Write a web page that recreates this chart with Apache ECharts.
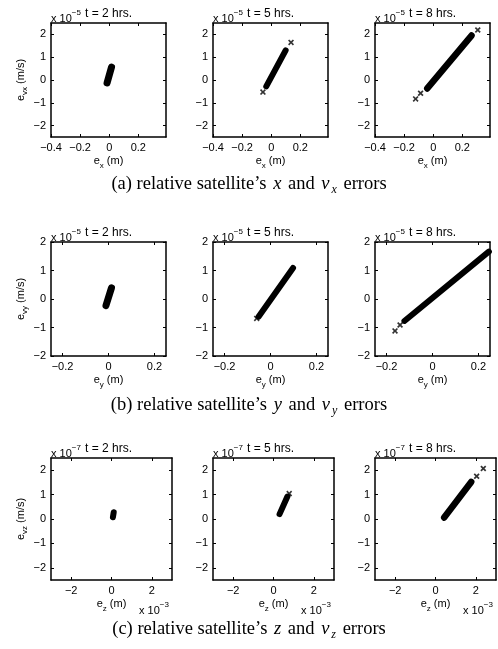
<!DOCTYPE html>
<html><head><meta charset="utf-8">
<script src="https://cdn.jsdelivr.net/npm/echarts@6/dist/echarts.min.js"></script>
<style>html,body{margin:0;padding:0;background:#fff}#c{width:498px;height:649px}</style>
</head><body><div id="c"></div>
<script>
// ---------------- DATA (values as displayed: x in m or x10^-3 m, v in x10^-5 / x10^-7 m/s) ----------------
const hourLabels = ['t = 2 hrs.', 't = 5 hrs.', 't = 8 hrs.'];
const yExponents = ['\u22125', '\u22125', '\u22127'];
const xSubs = ['x', 'y', 'z'];
const ySubs = ['vx', 'vy', 'vz'];

const xRanges = [[-0.4, 0.39], [-0.25, 0.25], [-3, 3]];
const yRanges = [[-2.5, 2.5], [-2, 2], [-2.5, 2.5]];
const xTickValues = [[-0.4, -0.2, 0, 0.2], [-0.2, 0, 0.2], [-2, 0, 2]];
const yTickValues = [-2, -1, 0, 1, 2];

// (a) x vs vx error clouds (centre line of the dense cloud) and isolated points
const aBand2h = [[-0.015, -0.13], [0.016, 0.57]];
const aBand5h = [[-0.034, -0.28], [0.099, 1.3]];
const aBand8h = [[-0.041, -0.37], [0.263, 1.95]];
const aOut2h = [];
const aOut5h = [[-0.057, -0.53], [0.136, 1.65]];
const aOut8h = [[-0.121, -0.83], [-0.087, -0.58], [0.306, 2.19]];

// (b) y vs vy
const bBand2h = [[-0.011, -0.23], [0.013, 0.39]];
const bBand5h = [[-0.052, -0.62], [0.098, 1.09]];
const bBand8h = [[-0.122, -0.77], [0.245, 1.66]];
const bOut2h = [];
const bOut5h = [[-0.06, -0.68]];
const bOut8h = [[-0.163, -1.12], [-0.141, -0.91]];

// (c) z vs vz (x in 10^-3 m, v in 10^-7 m/s)
const cBand2h = [[0.07, 0.07], [0.11, 0.28]];
const cBand5h = [[0.3, 0.2], [0.69, 0.92]];
const cBand8h = [[0.43, 0.06], [1.77, 1.52]];
const cOut2h = [];
const cOut5h = [[0.78, 1.04]];
const cOut8h = [[2.04, 1.75], [2.37, 2.07]];

const captionLabels = [
  ['(a) relative satellite\u2019s ', 'x', ' and ', 'v', 'x', ' errors'],
  ['(b) relative satellite\u2019s ', 'y', ' and ', 'v', 'y', ' errors'],
  ['(c) relative satellite\u2019s ', 'z', ' and ', 'v', 'z', ' errors']
];

// ---------------- LAYOUT / STYLE ----------------
const bands = [[aBand2h, aBand5h, aBand8h], [bBand2h, bBand5h, bBand8h], [cBand2h, cBand5h, cBand8h]];
const outs = [[aOut2h, aOut5h, aOut8h], [bOut2h, bOut5h, bOut8h], [cOut2h, cOut5h, cOut8h]];
const bandWidths = [[7, 6, 6.5], [7, 6, 6], [6, 6, 6.5]];
const rowTops = [23, 242, 458];
const rowHeights = [114, 114, 122];
const rowWidths = [115, 115, 121];
const colLefts = [51, 213, 375];
const captionY = [185, 406, 630];
const SANS = '"Liberation Sans", Arial, Helvetica, sans-serif';
const SERIF = '"Liberation Serif", "Times New Roman", serif';
const FS = 11;
const TFS = 12;
const CAP = 18.5;
const crossPath = 'path://M0,2L2,0L5,3L8,0L10,2L7,5L10,8L8,10L5,7L2,10L0,8L3,5Z';
const fmt = v => String(Math.round(v * 1000) / 1000).replace('-', '\u2212');

const grids = [], xAxes = [], yAxes = [], series = [], graphics = [];

for (let r = 0; r < 3; r++) {
  for (let c = 0; c < 3; c++) {
    const i = r * 3 + c;
    const left = colLefts[c], top = rowTops[r], w = rowWidths[r], h = rowHeights[r];
    grids.push({ left: left, top: top, width: w, height: h, containLabel: false, outerBoundsMode: 'none' });
    const lineStyle = { color: '#000', width: 1.5 };
    const tick = (vals) => ({ show: true, inside: true, length: 3, customValues: vals, lineStyle: { color: '#000', width: 1 } });
    const labelStyle = { color: '#000', fontSize: FS, fontFamily: SANS };
    xAxes.push({
      gridIndex: i, type: 'value', position: 'bottom', min: xRanges[r][0], max: xRanges[r][1],
      axisLine: { show: true, onZero: false, lineStyle: lineStyle },
      axisTick: tick(xTickValues[r]),
      axisLabel: Object.assign({ customValues: xTickValues[r], formatter: fmt, margin: 5 }, labelStyle),
      splitLine: { show: false },
      name: '{m|e}{s|' + xSubs[r] + '}{m| (m)}', nameLocation: 'middle', nameGap: 18,
      nameTextStyle: {
        rich: {
          m: { fontSize: FS, fontFamily: SANS, color: '#000', lineHeight: 12, verticalAlign: 'top' },
          s: { fontSize: 8, fontFamily: SANS, color: '#000', lineHeight: 9, padding: [7, 0, 0, 0], verticalAlign: 'top' }
        }
      }
    });
    xAxes.push({
      gridIndex: i, type: 'value', position: 'top', min: xRanges[r][0], max: xRanges[r][1],
      axisLine: { show: true, onZero: false, lineStyle: lineStyle },
      axisTick: tick(xTickValues[r]), axisLabel: { show: false }, splitLine: { show: false }
    });
    const yLeft = {
      gridIndex: i, type: 'value', position: 'left', min: yRanges[r][0], max: yRanges[r][1],
      axisLine: { show: true, onZero: false, lineStyle: lineStyle },
      axisTick: tick(yTickValues),
      axisLabel: Object.assign({ customValues: yTickValues, formatter: fmt, margin: 5 }, labelStyle),
      splitLine: { show: false }
    };
    if (c === 0) {
      yLeft.name = '{m|e}{s|' + ySubs[r] + '}{m| (m/s)}';
      yLeft.nameLocation = 'middle';
      yLeft.nameGap = 24;
      yLeft.nameTextStyle = {
        rich: {
          m: { fontSize: FS, fontFamily: SANS, color: '#000', lineHeight: 12, verticalAlign: 'top' },
          s: { fontSize: 8, fontFamily: SANS, color: '#000', lineHeight: 9, padding: [6, 0, 0, 0], verticalAlign: 'top' }
        }
      };
    }
    yAxes.push(yLeft);
    yAxes.push({
      gridIndex: i, type: 'value', position: 'right', min: yRanges[r][0], max: yRanges[r][1],
      axisLine: { show: true, onZero: false, lineStyle: lineStyle },
      axisTick: tick(yTickValues), axisLabel: { show: false }, splitLine: { show: false }
    });

    series.push({
      type: 'line', xAxisIndex: 2 * i, yAxisIndex: 2 * i, data: bands[r][c], symbol: 'none', silent: true,
      clip: true, lineStyle: { color: '#000', width: bandWidths[r][c], cap: 'round' }, z: 3
    });
    series.push({
      type: 'scatter', xAxisIndex: 2 * i, yAxisIndex: 2 * i, data: outs[r][c], symbol: crossPath,
      symbolSize: 6, itemStyle: { color: '#000' }, silent: true, clip: true, z: 4
    });

    // exponent label (top-left of each panel)
    graphics.push({
      type: 'text', x: left, y: top - 2, silent: true,
      style: {
        text: '{b|x 10}{p|' + yExponents[r] + '}', textVerticalAlign: 'bottom', textAlign: 'left',
        rich: {
          b: { fontSize: FS, fontFamily: SANS, fill: '#000', lineHeight: 12, padding: [4, 0, 0, 0], verticalAlign: 'top' },
          p: { fontSize: 8, fontFamily: SANS, fill: '#000', lineHeight: 9, verticalAlign: 'top' }
        }
      }
    });
    // panel title
    graphics.push({
      type: 'text', x: left + 57.5, y: top - 9, silent: true,
      style: { text: hourLabels[c], font: TFS + 'px ' + SANS, fill: '#000', textAlign: 'center', textVerticalAlign: 'middle' }
    });
    if (r === 2) {
      graphics.push({
        type: 'text', x: left + w - 33, y: 613, silent: true,
        style: {
          text: '{b|x 10}{p|\u22123}', textVerticalAlign: 'bottom', textAlign: 'left',
          rich: {
            b: { fontSize: FS, fontFamily: SANS, fill: '#000', lineHeight: 12, padding: [4, 0, 0, 0], verticalAlign: 'top' },
            p: { fontSize: 8, fontFamily: SANS, fill: '#000', lineHeight: 9, verticalAlign: 'top' }
          }
        }
      });
    }
  }
}

for (let r = 0; r < 3; r++) {
  const p = captionLabels[r];
  graphics.push({
    type: 'text', x: 249, y: captionY[r], silent: true,
    style: {
      text: '{r|' + p[0] + '}{i|' + p[1] + '}{r|' + p[2] + '}{i|' + p[3] + '}{s|' + p[4] + '}{r|' + p[5] + '}',
      textAlign: 'center', textVerticalAlign: 'middle',
      rich: {
        r: { fontSize: CAP, fontFamily: SERIF, fill: '#000', lineHeight: 20, verticalAlign: 'top' },
        i: { fontSize: CAP, fontFamily: SERIF, fontStyle: 'italic', fill: '#000', lineHeight: 20, verticalAlign: 'top', padding: [0, 2, 0, 2] },
        s: { fontSize: 12, fontFamily: SERIF, fontStyle: 'italic', fill: '#000', lineHeight: 14, padding: [9, 2, 0, 0], verticalAlign: 'top' }
      }
    }
  });
}

const chart = echarts.init(document.getElementById('c'), null, { renderer: 'canvas', width: 498, height: 649 });
chart.setOption({
  animation: false,
  backgroundColor: '#fff',
  grid: grids, xAxis: xAxes, yAxis: yAxes, series: series, graphic: graphics
});
</script></body></html>
